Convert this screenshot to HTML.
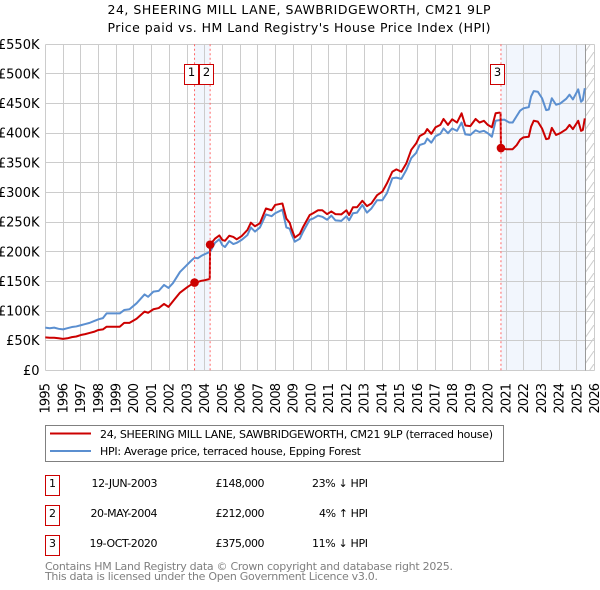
<!DOCTYPE html>
<html lang="en">
<head>
<meta charset="utf-8">
<title>24, Sheering Mill Lane price chart</title>
<style>
html,body{margin:0;padding:0;background:#fff;}
body{width:600px;height:590px;overflow:hidden;}
svg{display:block;font-family:"DejaVu Sans","Liberation Sans",sans-serif;}
</style>
</head>
<body>
<svg id="chart" width="600" height="590" viewBox="0 0 600 590" xmlns="http://www.w3.org/2000/svg">
  <defs>
    <pattern id="hatch" width="9" height="13" patternUnits="userSpaceOnUse">
      <path d="M0 13 L9 0" stroke="#cccccc" stroke-width="1" fill="none"/>
    </pattern>
  </defs>
  <g font-size="12.5" fill="#000" text-anchor="middle">
    <text x="299" y="14" textLength="383">24, SHEERING MILL LANE, SAWBRIDGEWORTH, CM21 9LP</text>
    <text x="299" y="32" textLength="383">Price paid vs. HM Land Registry's House Price Index (HPI)</text>
  </g>
  <g id="shading"></g>
  <g id="grid"></g>
  <g id="axes"></g>
  <g id="series"></g>
  <g id="markers"></g>

  <g>
    <rect x="45.5" y="425.5" width="458" height="36" fill="#fff" stroke="#808080" stroke-width="1"/>
    <line x1="50" x2="91" y1="433.5" y2="433.5" stroke="#cc0000" stroke-width="2"/>
    <text x="100" y="438" font-size="11" textLength="393">24, SHEERING MILL LANE, SAWBRIDGEWORTH, CM21 9LP (terraced house)</text>
    <line x1="50" x2="91" y1="451" y2="451" stroke="#5b8fd0" stroke-width="2"/>
    <text x="100" y="455" font-size="11" textLength="261">HPI: Average price, terraced house, Epping Forest</text>
  </g>

  <g font-size="11" fill="#000">
    <g>
      <rect x="45.5" y="475.5" width="14" height="20" fill="#fff" stroke="#cc0000"/>
      <text x="52.5" y="487" text-anchor="middle">1</text>
      <text x="157.5" y="487" text-anchor="end" textLength="66">12-JUN-2003</text>
      <text x="264.5" y="487" text-anchor="end" textLength="49">£148,000</text>
      <text x="368" y="487" text-anchor="end" textLength="56">23% ↓ HPI</text>
    </g>
    <g>
      <rect x="45.5" y="505.5" width="14" height="20" fill="#fff" stroke="#cc0000"/>
      <text x="52.5" y="517" text-anchor="middle">2</text>
      <text x="157.5" y="517" text-anchor="end" textLength="67">20-MAY-2004</text>
      <text x="264.5" y="517" text-anchor="end" textLength="49">£212,000</text>
      <text x="368" y="517" text-anchor="end" textLength="49">4% ↑ HPI</text>
    </g>
    <g>
      <rect x="45.5" y="535.5" width="14" height="20" fill="#fff" stroke="#cc0000"/>
      <text x="52.5" y="547" text-anchor="middle">3</text>
      <text x="157.5" y="547" text-anchor="end" textLength="68">19-OCT-2020</text>
      <text x="264.5" y="547" text-anchor="end" textLength="49">£375,000</text>
      <text x="368" y="547" text-anchor="end" textLength="56">11% ↓ HPI</text>
    </g>
  </g>

  <g font-size="11" fill="#808080">
    <text x="45" y="570" textLength="408">Contains HM Land Registry data © Crown copyright and database right 2025.</text>
    <text x="45" y="580" textLength="333">This data is licensed under the Open Government Licence v3.0.</text>
  </g>
</svg>
<script>
var yearTicks = [1995,1996,1997,1998,1999,2000,2001,2002,2003,2004,2005,2006,2007,2008,2009,2010,2011,2012,2013,2014,2015,2016,2017,2018,2019,2020,2021,2022,2023,2024,2025,2026];
var priceTicks = [0,50,100,150,200,250,300,350,400,450,500,550];
var priceTickLabels = ['£0','£50K','£100K','£150K','£200K','£250K','£300K','£350K','£400K','£450K','£500K','£550K'];

var saleLabels = ['1','2','3'];
var saleYears = [2003.42,2004.30,2020.71];
var salePrices = [148,212,375];
var dataEndYear = 2025.48;

var hpiYears = [1995,1995.25,1995.5,1995.75,1996,1996.25,1996.5,1996.75,1997,1997.25,1997.5,1997.75,1998,1998.25,1998.46,1999.2,1999.45,1999.75,2000.15,2000.6,2000.8,2001.1,2001.4,2001.7,2001.95,2002.2,2002.6,2003,2003.2,2003.42,2003.6,2003.8,2004,2004.3,2004.57,2004.82,2004.99,2005.14,2005.38,2005.61,2005.8,2006.08,2006.4,2006.6,2006.83,2007.11,2007.45,2007.77,2007.97,2008.38,2008.6,2008.79,2008.89,2009.08,2009.36,2009.55,2009.92,2010.11,2010.39,2010.63,2010.9,2011.14,2011.37,2011.7,2011.99,2012.14,2012.36,2012.59,2012.89,2013.15,2013.4,2013.72,2014.02,2014.28,2014.58,2014.81,2015.09,2015.37,2015.65,2015.93,2016.12,2016.41,2016.55,2016.78,2017.02,2017.29,2017.47,2017.72,2017.96,2018.23,2018.49,2018.7,2018.98,2019.28,2019.5,2019.75,2019.97,2020.2,2020.41,2020.63,2020.9,2021.18,2021.37,2021.6,2021.79,2021.98,2022.28,2022.41,2022.56,2022.79,2023.03,2023.26,2023.41,2023.58,2023.82,2024.05,2024.39,2024.58,2024.77,2025.07,2025.23,2025.33,2025.44];
var hpiValues = [72,71,72,70,69,71,73,74,76,78,80,83,86,88,96,96,101.7,103,113,128,124,132.7,134,144,139,147,166,178,184,190,189,193,196,200,215,221,211,208,218,213,215,220,228,241,234,241,263,260,265,271,241,239,230,217,222,234,254,256,261,259,254,261,253,252,260,253,265,266,279,266,273,287,287,299,324,325,323,338,358,367,380,383,391,384,395,399,408,400,408,404,418,398,397,405,402,404,400,394,421,422,423,418,418,429,438,442,444,462,471,470,459,439,440,459,448,450,458,465,457,474,453,456,476];

var paidYears = [1995,1995.25,1995.5,1995.75,1996,1996.25,1996.5,1996.75,1997,1997.25,1997.5,1997.75,1998,1998.25,1998.46,1999.2,1999.45,1999.75,2000.15,2000.6,2000.8,2001.1,2001.4,2001.7,2001.95,2002.3,2002.6,2003,2003.2,2003.42,2003.6,2003.8,2004,2004.28,2004.3,2004.57,2004.82,2004.99,2005.14,2005.38,2005.61,2005.8,2006.08,2006.4,2006.6,2006.83,2007.11,2007.45,2007.77,2007.97,2008.38,2008.6,2008.79,2008.89,2009.08,2009.36,2009.55,2009.92,2010.11,2010.39,2010.63,2010.9,2011.14,2011.37,2011.7,2011.99,2012.14,2012.36,2012.59,2012.89,2013.15,2013.4,2013.72,2014.02,2014.28,2014.58,2014.81,2015.09,2015.37,2015.65,2015.93,2016.12,2016.41,2016.55,2016.78,2017.02,2017.29,2017.47,2017.72,2017.96,2018.23,2018.49,2018.7,2018.98,2019.28,2019.5,2019.75,2019.97,2020.2,2020.41,2020.63,2020.69,2020.71,2021,2021.37,2021.6,2021.79,2021.98,2022.28,2022.41,2022.56,2022.79,2023.03,2023.26,2023.41,2023.58,2023.82,2024.05,2024.39,2024.58,2024.77,2025.07,2025.23,2025.33,2025.44];
var paidValues = [55.6,55,55,54,53,54,56,57,59.5,61,63,65,68,69,73.5,73.5,80,80,87,99,97,103,105,112,107,120,131,140,144,148,149,151,152,154,212,222,227.5,220,218.5,227,225,221,226.5,236.5,249,243,248,273,270,279,281.5,256,249,239,224,230,242,262,265,270,270,263.5,268,263.5,263,270,262,275,275,286,277,281.5,295.5,301.5,315.5,335,339,335,349,372,383,395,400,407,399,410,414,424,414,423.5,418,433.6,413,412,424,418,421,414,410,433.6,434.7,434,375,373,373,380,389,393,394,411,421,419.6,408,390,391,409,397,400,406.6,414,407,421,404,405.5,425];

var plotLeft = 45.3, plotRight = 594.7, plotTop = 44.3, plotBottom = 370.3;
var NS = 'http://www.w3.org/2000/svg';

function xScale(year){ return plotLeft + (year - 1995) * (plotRight - plotLeft) / 31; }
function yScale(price){ return plotBottom - price * (plotBottom - plotTop) / 550; }
function snap(v){ return Math.round(v - 0.5) + 0.5; }

function make(tag, parent, attrs){
  var el = document.createElementNS(NS, tag);
  for (var k in attrs) el.setAttribute(k, attrs[k]);
  parent.appendChild(el);
  return el;
}

var shading = document.getElementById('shading');
var grid = document.getElementById('grid');
var axes = document.getElementById('axes');
var series = document.getElementById('series');
var markers = document.getElementById('markers');

var band12 = make('rect', shading, {x: xScale(saleYears[0]), y: plotTop, width: xScale(saleYears[1]) - xScale(saleYears[0]), height: plotBottom - plotTop, fill: '#f2f6fd'});


var band3 = make('rect', shading, {x: xScale(saleYears[2]), y: plotTop, width: xScale(dataEndYear) - xScale(saleYears[2]), height: plotBottom - plotTop, fill: '#f2f6fd'});


var hatch = make('rect', shading, {x: xScale(dataEndYear), y: plotTop, width: plotRight - xScale(dataEndYear), height: plotBottom - plotTop, fill: 'url(#hatch)'});



yearTicks.forEach(function(year){
  var x = snap(xScale(year));
  var line = make('line', grid, {x1: x, x2: x, y1: snap(plotTop), y2: snap(plotBottom), stroke: '#cccccc', 'stroke-width': 1});
  
  
  var label = make('text', axes, {transform: 'translate(' + (xScale(year) + 4.3) + ',413.5) rotate(-90)', 'font-size': 13, textLength: 30.6, fill: '#000'});
  
  
  label.textContent = year;
});

priceTicks.forEach(function(price, i){
  var y = snap(yScale(price));
  var line = make('line', grid, {x1: snap(plotLeft), x2: snap(plotRight), y1: y, y2: y, stroke: '#cccccc', 'stroke-width': 1});
  
  
  var label = make('text', axes, {x: 39.5, y: yScale(price) + 4.5, 'font-size': 13, 'text-anchor': 'end', fill: '#000'});
  
  
  label.textContent = priceTickLabels[i];
});

var endLine = make('line', grid, {x1: snap(xScale(dataEndYear)), x2: snap(xScale(dataEndYear)), y1: snap(plotTop), y2: snap(plotBottom), stroke: '#999999', 'stroke-width': 1});



function pathFor(years, values){
  return years.map(function(year, i){
    return (i ? 'L' : 'M') + xScale(year).toFixed(2) + ' ' + yScale(values[i]).toFixed(2);
  }).join(' ');
}

var hpiLine = make('path', series, {d: pathFor(hpiYears, hpiValues), fill: 'none', stroke: '#5b8fd0', 'stroke-width': 2, 'stroke-linejoin': 'round'});


var paidLine = make('path', series, {d: pathFor(paidYears, paidValues), fill: 'none', stroke: '#cc0000', 'stroke-width': 2, 'stroke-linejoin': 'round'});



saleYears.forEach(function(year, i){
  var x = xScale(year);
  var dash = make('line', markers, {x1: x, x2: x, y1: plotTop, y2: plotBottom, stroke: '#ff6666', 'stroke-width': 1, 'stroke-dasharray': '2 2.5'});
  
  
  var dot = make('circle', markers, {cx: x, cy: yScale(salePrices[i]), r: 4.3, fill: '#cc0000'});
  
  
});
saleYears.forEach(function(year, i){
  var x = xScale(year);
  var boxX = (i === 0 ? x - 10.4 : i === 1 ? x - 10.2 : x - 10);
  var box = make('rect', markers, {x: snap(boxX), y: 64.5, width: 14, height: 20, fill: '#fff', stroke: '#cc0000', 'stroke-width': 1});
  
  
  var num = make('text', markers, {x: snap(boxX) + 7, y: 76, 'font-size': 11.5, 'text-anchor': 'middle', fill: '#000'});
  
  
  num.textContent = saleLabels[i];
});
</script>
</body>
</html>
